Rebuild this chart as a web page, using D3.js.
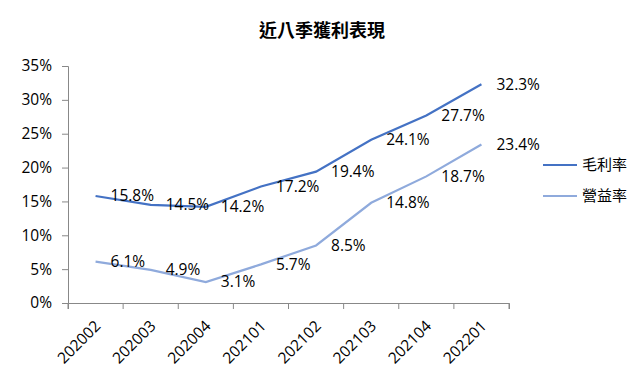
<!DOCTYPE html>
<html>
<head>
<meta charset="utf-8">
<script src="https://cdn.jsdelivr.net/npm/d3@7"></script>
<style>
  body { margin: 0; background: #fff; }
  svg text { font-family: "Open Sans", "Noto Sans CJK TC", sans-serif; fill: #000; }
</style>
</head>
<body>
<svg class="chartSVG" width="637" height="372"></svg>
<script>
const quarters = ['202002', '202003', '202004', '202101', '202102', '202103', '202104', '202201'];
const grossMargin = [15.8, 14.5, 14.2, 17.2, 19.4, 24.1, 27.7, 32.3];
const opMargin = [6.1, 4.9, 3.1, 5.7, 8.5, 14.8, 18.7, 23.4];
const yTicks = [0, 5, 10, 15, 20, 25, 30, 35];
const seriesNames = ['毛利率', '營益率'];
const seriesColors = ['#4472C4', '#8FAADC'];

const svg = d3.select('svg.chartSVG');
const margin = {left: 68, right: 128, top: 66, bottom: 69};
const W = 637, H = 372;

const x = d3.scaleBand().domain(quarters).range([margin.left, W - margin.right]);
const y = d3.scaleLinear().domain([0, 35]).range([H - margin.bottom, margin.top]);

// title
svg.append('text')
  .text('近八季獲利表現')
  .attr('x', 322).attr('y', 37)
  .style('text-anchor', 'middle')
  .style('font-family', '"Noto Sans CJK TC", sans-serif')
  .style('font-weight', 700)
  .style('font-size', '18px');

// y axis
const yAxis = svg.append('g')
  .attr('transform', `translate(${margin.left},0)`)
  .call(d3.axisLeft(y).tickValues(yTicks).tickSize(6).tickFormat(d => d + '%'));
yAxis.selectAll('text').style('font-size', '15.5px').attr('x', -16);

// x axis
const xAxis = svg.append('g')
  .attr('transform', `translate(0,${H - margin.bottom})`)
  .call(d3.axisBottom(x).tickSize(6).tickFormat(d => d));
xAxis.selectAll('.tick line').attr('transform', `translate(${x.bandwidth() / 2},0)`);
// extra tick at axis start
xAxis.append('line')
  .attr('x1', margin.left).attr('x2', margin.left)
  .attr('y1', 0).attr('y2', 6)
  .attr('stroke', '#888');
xAxis.selectAll('.tick text')
  .style('font-size', '15.5px')
  .style('text-anchor', 'end')
  .attr('y', 0)
  .attr('dy', 0)
  .attr('transform', 'translate(6,24) rotate(-45)');

svg.selectAll('.domain, .tick line').attr('stroke', '#888');

const line = d3.line()
  .x((d, i) => x(quarters[i]) + x.bandwidth() / 2)
  .y(d => y(d));

[grossMargin, opMargin].forEach((vals, k) => {
  svg.append('path')
    .datum(vals)
    .attr('d', line)
    .attr('fill', 'none')
    .attr('stroke', seriesColors[k])
    .attr('stroke-width', 2.2);

  svg.append('g')
    .selectAll('text')
    .data(vals)
    .enter()
    .append('text')
    .text(d => d.toFixed(1) + '%')
    .attr('x', (d, i) => x(quarters[i]) + x.bandwidth() / 2 + 15)
    .attr('y', d => y(d))
    .attr('dy', '0.35em')
    .style('font-size', '15.5px');
});

// legend
const legend = svg.append('g').attr('transform', 'translate(543,165)');
seriesNames.forEach((name, k) => {
  const g = legend.append('g').attr('transform', `translate(0,${k * 31})`);
  g.append('line')
    .attr('x1', 0).attr('x2', 34)
    .attr('stroke', seriesColors[k])
    .attr('stroke-width', 2.2);
  g.append('text')
    .text(name)
    .attr('x', 39).attr('y', 0)
    .attr('dy', '0.35em')
    .style('font-family', '"Noto Sans CJK TC", sans-serif')
    .style('font-size', '15px');
});
</script>
</body>
</html>
